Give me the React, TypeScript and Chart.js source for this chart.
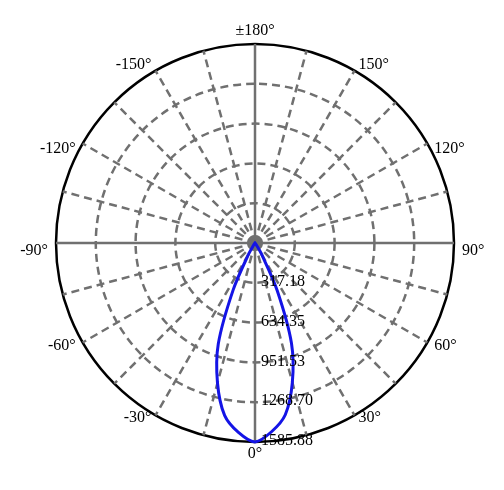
import React, { useEffect, useRef } from 'react';
import { Chart, registerables } from 'chart.js';

Chart.register(...registerables);

// angle categories in radar order (0° at the bottom, going clockwise)
const angles = [
    0, -5, -10, -15, -20, -25, -30, -35, -40, -45, -50, -55, -60, -65, -70, -75, -80, -85,
    -90, -95, -100, -105, -110, -115, -120, -125, -130, -135, -140, -145, -150, -155, -160, -165, -170, -175,
    180, 175, 170, 165, 160, 155, 150, 145, 140, 135, 130, 125, 120, 115, 110, 105, 100, 95,
    90, 85, 80, 75, 70, 65, 60, 55, 50, 45, 40, 35, 30, 25, 20, 15, 10, 5,
];

// luminous intensity (cd) for each angle
const intensity = [
    1585, 1515, 1395, 1155, 855, 410, 100, 15, 3, 0, 0, 0, 0, 0, 0, 0, 0, 0,
    0, 0, 0, 0, 0, 0, 0, 0, 0, 0, 0, 0, 0, 0, 0, 0, 0, 0,
    0, 0, 0, 0, 0, 0, 0, 0, 0, 0, 0, 0, 0, 0, 0, 0, 0, 0,
    0, 0, 0, 0, 0, 0, 0, 0, 0, 0, 4, 20, 110, 420, 850, 1150, 1390, 1510,
];

const ringValues = [317.18, 634.35, 951.53, 1268.70, 1585.88];
const labeledAngles = [0, -30, -60, -90, -120, -150, 180, 150, 120, 90, 60, 30];

const maxValue = ringValues[ringValues.length - 1];
const gridGray = '#707070';
const labelFont = '16px "Liberation Serif", "DejaVu Serif", serif';

const angleText = (a: number) => (a === 180 ? '±180°' : a + '°');

const labelsPlugin = {
    id: 'polarLabels',
    afterDraw(chart: any) {
        const scale = chart.scales.r;
        const ctx = chart.ctx;
        ctx.save();
        ctx.font = labelFont;
        ctx.fillStyle = '#000';

        // ring values along the 0° spoke
        ctx.textAlign = 'left';
        ctx.textBaseline = 'middle';
        ringValues.forEach((v) => {
            const d = scale.getDistanceFromCenterForValue(v);
            ctx.fillText(v.toFixed(2), scale.xCenter + 6, scale.yCenter + d - 1);
        });

        // angle labels round the outside
        angles.forEach((a, i) => {
            if (!labeledAngles.includes(a)) return;
            const r = scale.drawingArea + 8;
            const p = scale.getPointPosition(i, r);
            const dx = p.x - scale.xCenter;
            const t = (p.y - scale.yCenter) / r;
            let y = p.y;
            if (Math.abs(dx) < 1) {
                ctx.textAlign = 'center';
                if (t < 0) {
                    ctx.textBaseline = 'bottom';
                    y = p.y + 3;
                } else {
                    ctx.textBaseline = 'top';
                    y = p.y - 4;
                }
            } else {
                ctx.textAlign = dx > 0 ? 'left' : 'right';
                ctx.textBaseline = 'middle';
                y = p.y + 7.5 - 13.5 * t - 12 * t * t + 13.9 * t * t * t;
            }
            ctx.fillText(angleText(a), p.x, y);
        });
        ctx.restore();
    },
};

const PolarChart: React.FC = () => {
    const chartRef = useRef<HTMLCanvasElement>(null);
    const chartInstance = useRef<Chart | null>(null);

    useEffect(() => {
        document.body.style.margin = '0';
        if (!chartRef.current) return;
        if (chartInstance.current) chartInstance.current.destroy();

        chartInstance.current = new Chart(chartRef.current, {
            type: 'radar',
            data: {
                labels: angles.map(String),
                datasets: [
                    {
                        label: 'Intensity',
                        data: intensity,
                        borderColor: '#1414e6',
                        borderWidth: 3,
                        tension: 0.3,
                        fill: false,
                        pointRadius: 0,
                    },
                ],
            },
            options: {
                responsive: false,
                animation: false,
                layout: { padding: { left: 56, right: 50, top: 44, bottom: 48 } },
                plugins: {
                    legend: { display: false },
                    tooltip: { enabled: false },
                },
                scales: {
                    r: {
                        min: 0,
                        max: maxValue,
                        startAngle: 180,
                        afterBuildTicks: (scale: any) => {
                            scale.ticks = [0, ...ringValues].map((v) => ({ value: v }));
                        },
                        ticks: { display: false },
                        pointLabels: { display: false },
                        grid: {
                            circular: true,
                            color: (c: any) => (c.index === ringValues.length ? '#000' : gridGray),
                            lineWidth: 2.5,
                        },
                        border: {
                            dash: (c: any) => (c.index === ringValues.length ? [] : [8, 5]),
                        },
                        angleLines: {
                            color: gridGray,
                            lineWidth: (c: any) => (c.index % 3 === 0 ? 2.5 : 0),
                            borderDash: (c: any) => (c.index % 18 === 0 ? [] : [8, 5]),
                        },
                    },
                },
            } as any,
            plugins: [labelsPlugin],
        });

        return () => {
            if (chartInstance.current) {
                chartInstance.current.destroy();
                chartInstance.current = null;
            }
        };
    }, []);

    return (
        <div style={{ width: 504, height: 490, background: '#fff' }}>
            <canvas ref={chartRef} width={504} height={490} />
        </div>
    );
};

export default function App() {
    return <PolarChart />;
}
